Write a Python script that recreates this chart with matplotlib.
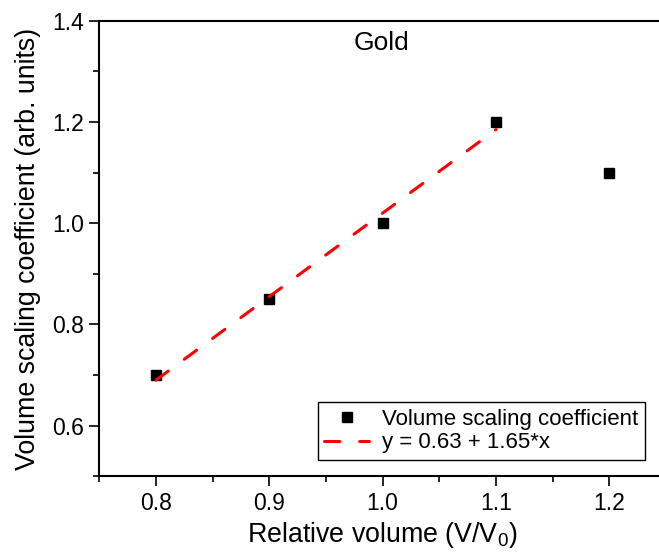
import matplotlib
matplotlib.use('Agg')
import matplotlib.pyplot as plt
from matplotlib.ticker import MultipleLocator

plt.rcParams['font.family'] = ['Liberation Sans', 'DejaVu Sans']

# data
rel_volume = [0.8, 0.9, 1.0, 1.1, 1.2]
scaling_coef = [0.70, 0.85, 1.00, 1.20, 1.10]
fit_intercept = -0.63
fit_slope = 1.65
fit_x = [0.8, 1.1]

fig = plt.figure(figsize=(6.59, 5.55), dpi=100)
# axes runs past the right edge, like the cropped original
ax = fig.add_axes([99.3/659, 78.7/555, (666-99.3)/659, (476.3-20.7)/555])

ax.plot(rel_volume, scaling_coef, 's', color='black', markersize=7.5,
        linestyle='none', label='Volume scaling coefficient')
fit_y = [fit_intercept + fit_slope*x for x in fit_x]
ax.plot(fit_x, fit_y, color='red', linewidth=2.2, dashes=(5.0, 6.5),
        dash_capstyle='round', label='y = 0.63 + 1.65*x')

ax.set_xlim(0.75, 1.25)
ax.set_ylim(0.5, 1.4)
ax.xaxis.set_minor_locator(MultipleLocator(0.05))
ax.yaxis.set_minor_locator(MultipleLocator(0.1))
ax.set_xticks([0.8, 0.9, 1.0, 1.1, 1.2])
ax.set_yticks([0.6, 0.8, 1.0, 1.2, 1.4])
ax.xaxis.set_major_formatter(plt.FormatStrFormatter('%.1f'))
ax.yaxis.set_major_formatter(plt.FormatStrFormatter('%.1f'))

for s in ax.spines.values():
    s.set_linewidth(1.5)
ax.tick_params(which='major', direction='out', length=7, width=1.2,
               labelsize=16.5, pad=4)
ax.tick_params(which='minor', direction='out', length=4, width=1.2)

ax.set_xlabel('Relative volume (V/V$_\\mathregular{0}$)', fontsize=19.3, labelpad=4)
ax.set_ylabel('Volume scaling coefficient (arb. units)', fontsize=19.3, labelpad=8)

ax.text(0.449, 0.951, 'Gold', transform=ax.transAxes, fontsize=19,
        ha='left', va='center')

leg = ax.legend(loc='lower right', bbox_to_anchor=(645/659, 95/555),
                bbox_transform=fig.transFigure, borderaxespad=0,
                fontsize=16, fancybox=False, framealpha=1,
                edgecolor='black', handlelength=2.0, handletextpad=0.6,
                borderpad=0.3, labelspacing=0.1)
leg.get_frame().set_linewidth(1.0)

fig.savefig('out.png', dpi=100)
